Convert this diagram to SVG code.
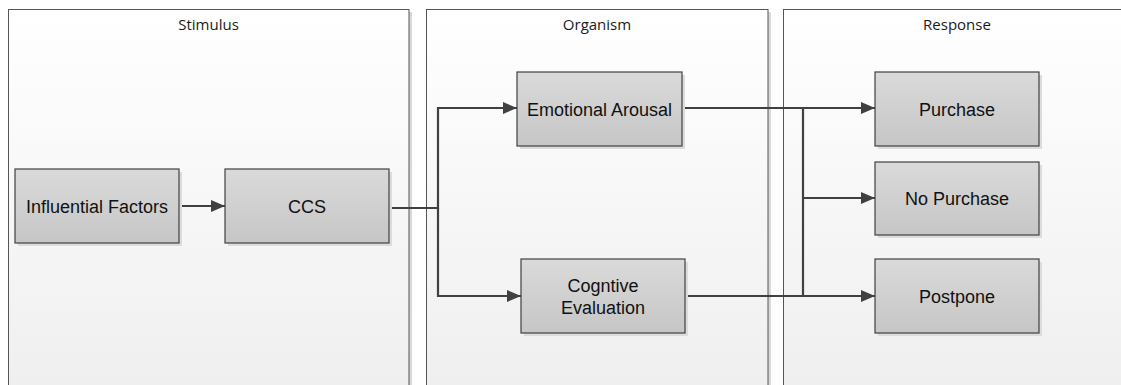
<svg xmlns="http://www.w3.org/2000/svg" width="1121" height="385" viewBox="0 0 1121 385">
  <defs>
    <linearGradient id="laneFill" x1="0" y1="0" x2="0" y2="1">
      <stop offset="0" stop-color="#ffffff"/>
      <stop offset="1" stop-color="#efefef"/>
    </linearGradient>
    <linearGradient id="nodeFill" x1="0" y1="0" x2="0" y2="1">
      <stop offset="0" stop-color="#dadada"/>
      <stop offset="1" stop-color="#c6c6c6"/>
    </linearGradient>
    <marker id="arrow" markerWidth="14" markerHeight="12" refX="14" refY="6" orient="auto" markerUnits="userSpaceOnUse">
      <path d="M0,0 L14,6 L0,12 Z" fill="#404040"/>
    </marker>
  </defs>
  <style>
    .lane-shadow { fill: #d9d9d9; }
    .lane { fill: url(#laneFill); stroke: #555555; stroke-width: 1; }
    .lane-title { font-family: "Open Sans", "Liberation Sans", sans-serif; font-size: 15px; fill: #1a1a1a; text-anchor: middle; }
    .node-shadow { fill: #dcdcdc; }
    .node { fill: url(#nodeFill); stroke: #404040; stroke-width: 1.2; }
    .label { font-family: "Liberation Sans", Arial, sans-serif; font-size: 18px; fill: #111111; text-anchor: middle; }
    .edge { fill: none; stroke: #404040; stroke-width: 2.2; }
  </style>

  <rect width="1121" height="385" fill="#ffffff"/>

  <!-- swimlanes -->
  <g id="lane-stimulus">
    <rect class="lane-shadow" x="11" y="12" width="401" height="380"/>
    <rect class="lane" x="8.5" y="9.5" width="400.5" height="380"/>
    <text class="lane-title" x="208.5" y="30">Stimulus</text>
  </g>
  <g id="lane-organism">
    <rect class="lane-shadow" x="429" y="12" width="342" height="380"/>
    <rect class="lane" x="426.5" y="9.5" width="341.5" height="380"/>
    <text class="lane-title" x="597" y="30">Organism</text>
  </g>
  <g id="lane-response">
    <rect class="lane-shadow" x="786" y="12" width="348" height="380"/>
    <rect class="lane" x="783.5" y="9.5" width="348" height="380"/>
    <text class="lane-title" x="957" y="30">Response</text>
  </g>

  <!-- connectors -->
  <g id="connectors">
    <path class="edge" d="M179,206 L225,206" marker-end="url(#arrow)"/>
    <path class="edge" d="M389,208 L438,208 L438,108 L517,108" marker-end="url(#arrow)"/>
    <path class="edge" d="M438,208 L438,296 L521,296" marker-end="url(#arrow)"/>
    <path class="edge" d="M682,108 L875,108" marker-end="url(#arrow)"/>
    <path class="edge" d="M685,296 L875,296" marker-end="url(#arrow)"/>
    <path class="edge" d="M803,108 L803,296"/>
    <path class="edge" d="M803,198 L875,198" marker-end="url(#arrow)"/>
  </g>

  <!-- nodes -->
  <g id="node-influential-factors">
    <rect class="node-shadow" x="18" y="172" width="164" height="74"/>
    <rect class="node" x="15" y="169" width="164" height="74"/>
    <text class="label" x="97" y="212.5">Influential Factors</text>
  </g>
  <g id="node-ccs">
    <rect class="node-shadow" x="228" y="172" width="164" height="74"/>
    <rect class="node" x="225" y="169" width="164" height="74"/>
    <text class="label" x="307" y="212.5">CCS</text>
  </g>
  <g id="node-emotional-arousal">
    <rect class="node-shadow" x="520" y="75" width="165" height="74"/>
    <rect class="node" x="517" y="72" width="165" height="74"/>
    <text class="label" x="599.5" y="115.5">Emotional Arousal</text>
  </g>
  <g id="node-cognitive-evaluation">
    <rect class="node-shadow" x="524" y="262" width="164" height="74"/>
    <rect class="node" x="521" y="259" width="164" height="74"/>
    <text class="label" x="603" y="291.5">Cogntive</text>
    <text class="label" x="603" y="313.5">Evaluation</text>
  </g>
  <g id="node-purchase">
    <rect class="node-shadow" x="878" y="75" width="164" height="74"/>
    <rect class="node" x="875" y="72" width="164" height="74"/>
    <text class="label" x="957" y="115.5">Purchase</text>
  </g>
  <g id="node-no-purchase">
    <rect class="node-shadow" x="878" y="165" width="164" height="73"/>
    <rect class="node" x="875" y="162" width="164" height="73"/>
    <text class="label" x="957" y="205">No Purchase</text>
  </g>
  <g id="node-postpone">
    <rect class="node-shadow" x="878" y="262" width="164" height="74"/>
    <rect class="node" x="875" y="259" width="164" height="74"/>
    <text class="label" x="957" y="302.5">Postpone</text>
  </g>
</svg>
